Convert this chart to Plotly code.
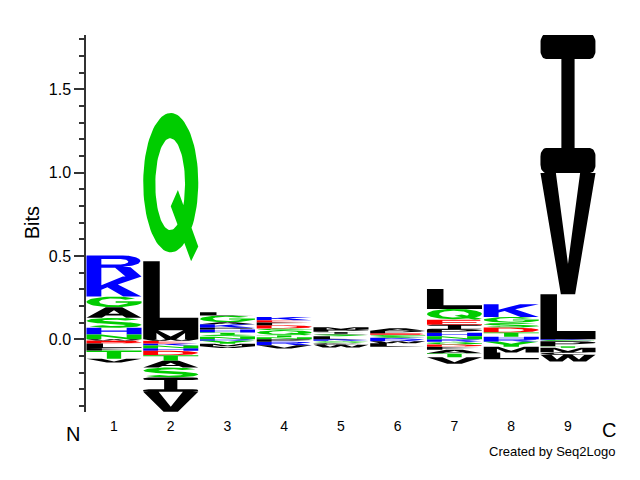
import numpy as np
import plotly.graph_objects as go

# ---------------- data (bits per residue, positive stacked up, negative stacked down) ----------------
positions = [1, 2, 3, 4, 5, 6, 7, 8, 9]
x_labels = ["1", "2", "3", "4", "5", "6", "7", "8", "9"]

p1_letters = ["N", "H", "S", "A", "G", "K", "R", "W", "E", "D", "L", "F", "T", "V"]
p1_bits = [0.028, 0.04, 0.06, 0.064, 0.064, 0.12, 0.126, -0.008, -0.01, -0.008, -0.027, -0.015, -0.05, -0.022]

p2_letters = ["M", "L", "Q", "W", "E", "K", "N", "H", "D", "T", "A", "S", "I", "V"]
p2_bits = [0.054, 0.414, 0.89, -0.01, -0.016, -0.012, -0.016, -0.016, -0.026, -0.034, -0.04, -0.06, -0.086, -0.12]

p3_letters = ["N", "S", "T", "H", "P", "K", "A", "G", "L", "R", "Y", "M", "V"]
p3_bits = [0.014, 0.014, 0.012, 0.018, 0.01, 0.022, 0.012, 0.04, 0.02, -0.01, -0.018, -0.015, -0.01]

p4_letters = ["N", "T", "Q", "G", "D", "F", "E", "K", "P", "R", "V"]
p4_bits = [0.012, 0.012, 0.03, 0.01, 0.02, 0.016, 0.014, 0.02, -0.016, -0.02, -0.02]

p5_letters = ["L", "S", "I", "P", "M", "K", "G", "C", "W"]
p5_bits = [0.018, 0.012, 0.014, 0.014, 0.014, -0.01, -0.012, -0.012, -0.016]

p6_letters = ["K", "S", "G", "E", "P", "A", "R", "W", "L"]
p6_bits = [0.008, 0.008, 0.01, 0.01, 0.014, 0.016, -0.012, -0.012, -0.021]

p7_letters = ["N", "H", "P", "I", "E", "Q", "L", "R", "G", "D", "F", "A", "T", "V"]
p7_bits = [0.018, 0.02, 0.02, 0.028, 0.03, 0.066, 0.12, -0.016, -0.016, -0.014, -0.018, -0.02, -0.024, -0.04]

p8_letters = ["H", "T", "D", "S", "G", "K", "R", "Y", "M", "L"]
p8_bits = [0.014, 0.026, 0.03, 0.028, 0.036, 0.076, -0.016, -0.03, -0.034, -0.04]

p9_letters = ["L", "V", "I", "K", "G", "P", "T", "M", "C", "W"]
p9_bits = [0.27, 0.727, 0.835, -0.006, -0.006, -0.03, -0.01, -0.026, -0.016, -0.04]

all_letters = [p1_letters, p2_letters, p3_letters, p4_letters, p5_letters,
               p6_letters, p7_letters, p8_letters, p9_letters]
all_bits = [p1_bits, p2_bits, p3_bits, p4_bits, p5_bits,
            p6_bits, p7_bits, p8_bits, p9_bits]

BLUE, RED, GREEN, BLACK = "#0000FF", "#FF0000", "#00CC00", "#000000"
color_of = {}
for a in "KRH":
    color_of[a] = BLUE
for a in "DE":
    color_of[a] = RED
for a in "GSTYNQ":
    color_of[a] = GREEN
for a in "ACFILMPVW":
    color_of[a] = BLACK

# ---------------- glyph outlines in a unit box ----------------
def arc(cx, cy, rx, ry, a0, a1, n=48):
    t = np.radians(np.linspace(a0, a1, n))
    return [(cx + rx * np.cos(v), cy + ry * np.sin(v)) for v in t]


def rrect(x0, y0, x1, y1, rx, ry):
    pts = []
    pts += arc(x1 - rx, y0 + ry, rx, ry, -90, 0, 10)
    pts += arc(x1 - rx, y1 - ry, rx, ry, 0, 90, 10)
    pts += arc(x0 + rx, y1 - ry, rx, ry, 90, 180, 10)
    pts += arc(x0 + rx, y0 + ry, rx, ry, 180, 270, 10)
    return pts


def s_shape(hx=0.14, hy=0.09):
    cy = (1.5 - hy) / 2.0
    ry = cy - 0.5
    rx = 0.5 - hx
    t1 = np.radians(np.linspace(25, 270, 60))
    t2 = np.radians(np.linspace(90, -155, 60))
    cx1 = 0.5 + rx * np.cos(t1)
    cy1 = cy + ry * np.sin(t1)
    cx2 = 0.5 + rx * np.cos(t2)
    cy2 = (1 - cy) + ry * np.sin(t2)
    xs = np.concatenate([cx1, cx2[1:]])
    ys = np.concatenate([cy1, cy2[1:]])
    u, v = xs / hx, ys / hy
    du, dv = np.gradient(u), np.gradient(v)
    nrm = np.hypot(du, dv)
    nu, nv = -dv / nrm, du / nrm
    left = list(zip((u + nu) * hx, (v + nv) * hy))
    right = list(zip((u - nu) * hx, (v - nv) * hy))
    return left + right[::-1]


GLYPHS = {
    "A": [([(0, 0), (0.35, 1), (0.65, 1), (1, 0), (0.72, 0), (0.65, 0.22), (0.35, 0.22), (0.28, 0)], True),
          ([(0.40, 0.38), (0.5, 0.72), (0.60, 0.38)], False)],
    "C": [(arc(0.5, 0.5, 0.5, 0.5, 40, 320) + arc(0.5, 0.5, 0.27, 0.32, 320, 40), True)],
    "D": [([(0, 0), (0, 1), (0.5, 1)] + arc(0.5, 0.5, 0.5, 0.5, 90, -90) + [(0.5, 0)], True),
          ([(0.27, 0.18), (0.27, 0.82), (0.48, 0.82)] + arc(0.48, 0.5, 0.25, 0.32, 90, -90) + [(0.48, 0.18)], False)],
    "E": [([(0, 0), (1, 0), (1, 0.18), (0.28, 0.18), (0.28, 0.42), (0.9, 0.42), (0.9, 0.58),
            (0.28, 0.58), (0.28, 0.82), (0.97, 0.82), (0.97, 1), (0, 1)], True)],
    "F": [([(0, 0), (0.28, 0), (0.28, 0.42), (0.88, 0.42), (0.88, 0.58),
            (0.28, 0.58), (0.28, 0.82), (0.97, 0.82), (0.97, 1), (0, 1)], True)],
    "G": [(arc(0.5, 0.5, 0.5, 0.5, 40, 345) + [(1.0, 0.37), (1.0, 0.56), (0.53, 0.56), (0.53, 0.41), (0.76, 0.41)]
           + arc(0.5, 0.5, 0.27, 0.32, 345, 40), True)],
    "H": [([(0, 0), (0, 1), (0.27, 1), (0.27, 0.6), (0.73, 0.6), (0.73, 1), (1, 1), (1, 0),
            (0.73, 0), (0.73, 0.42), (0.27, 0.42), (0.27, 0)], True)],
    "I": [(rrect(0, 0.82, 1, 1, 0.1, 0.06), True),
          ([(0.38, 0.15), (0.62, 0.15), (0.62, 0.85), (0.38, 0.85)], True),
          (rrect(0, 0, 1, 0.18, 0.1, 0.06), True)],
    "K": [([(0, 0), (0, 1), (0.27, 1), (0.27, 0.57), (0.66, 1), (1, 1), (0.57, 0.6), (1, 0),
            (0.67, 0), (0.38, 0.46), (0.27, 0.34), (0.27, 0)], True)],
    "L": [([(0, 0), (1, 0), (1, 0.18), (0.3, 0.18), (0.3, 1), (0, 1)], True)],
    "M": [([(0, 0), (0, 1), (0.27, 1), (0.5, 0.3), (0.73, 1), (1, 1), (1, 0), (0.76, 0),
            (0.76, 0.68), (0.6, 0), (0.4, 0), (0.24, 0.68), (0.24, 0)], True)],
    "N": [([(0, 0), (0, 1), (0.27, 1), (0.73, 0.35), (0.73, 1), (1, 1), (1, 0), (0.73, 0),
            (0.27, 0.65), (0.27, 0)], True)],
    "P": [([(0, 0), (0, 1), (0.62, 1)] + arc(0.62, 0.7, 0.38, 0.3, 90, -90) + [(0.62, 0.4), (0.27, 0.4), (0.27, 0)], True),
          ([(0.27, 0.56), (0.27, 0.84), (0.58, 0.84)] + arc(0.58, 0.7, 0.15, 0.14, 90, -90) + [(0.58, 0.56)], False)],
    "Q": [(arc(0.5, 0.53, 0.5, 0.47, 0, 360, 90), True),
          (arc(0.49, 0.52, 0.27, 0.31, 0, 360, 90), False),
          ([(0.5, 0.37), (0.63, 0.48), (1.0, 0.1), (0.87, 0.0)], True)],
    "R": [([(0, 0), (0, 1), (0.66, 1)] + arc(0.66, 0.74, 0.32, 0.26, 90, -90)
           + [(0.8, 0.44), (1.0, 0.0), (0.71, 0.0), (0.52, 0.42), (0.27, 0.42), (0.27, 0)], True),
          ([(0.27, 0.58), (0.27, 0.84), (0.62, 0.84)] + arc(0.62, 0.71, 0.14, 0.13, 90, -90) + [(0.62, 0.58)], False)],
    "S": [(s_shape(), True)],
    "T": [([(0, 1), (1, 1), (1, 0.82), (0.63, 0.82), (0.63, 0), (0.37, 0), (0.37, 0.82), (0, 0.82)], True)],
    "V": [([(0, 1), (0.28, 1), (0.5, 0.25), (0.72, 1), (1, 1), (0.63, 0), (0.37, 0)], True)],
    "W": [([(0, 1), (0.2, 1), (0.3, 0.3), (0.42, 1), (0.58, 1), (0.7, 0.3), (0.8, 1), (1, 1),
            (0.83, 0), (0.6, 0), (0.5, 0.62), (0.4, 0), (0.17, 0)], True)],
    "Y": [([(0, 1), (0.3, 1), (0.5, 0.62), (0.7, 1), (1, 1), (0.64, 0.4), (0.64, 0), (0.36, 0), (0.36, 0.4)], True)],
}


def oriented(pts, outer):
    p = np.asarray(pts, float)
    x, y = p[:, 0], p[:, 1]
    area = 0.5 * np.sum(x * np.roll(y, -1) - np.roll(x, -1) * y)
    if (area > 0) != outer:
        p = p[::-1]
    return p


GL = {k: [oriented(p, o) for p, o in v] for k, v in GLYPHS.items()}

# ---------------- build filled traces per colour ----------------
W = 0.97
paths = {c: ([], []) for c in (BLUE, RED, GREEN, BLACK)}
for pos, letters, bits in zip(positions, all_letters, all_bits):
    up, down = 0.0, 0.0
    for aa, b in zip(letters, bits):
        h = abs(b)
        if b >= 0:
            y0 = up
            up += h
        else:
            down -= h
            y0 = down
        xs, ys = paths[color_of[aa]]
        for p in GL[aa]:
            xs.extend(list(pos - W / 2 + p[:, 0] * W) + [None])
            ys.extend(list(y0 + p[:, 1] * h) + [None])

fig = go.Figure()
for c, (xs, ys) in paths.items():
    fig.add_trace(go.Scatter(x=xs, y=ys, mode="lines", fill="toself", fillcolor=c,
                             line=dict(width=0, color=c), hoverinfo="skip", showlegend=False))

FONT = "Liberation Sans, Arial, Helvetica, sans-serif"
fig.update_layout(
    width=640, height=480,
    margin=dict(l=86, r=0, t=35, b=68),
    plot_bgcolor="white", paper_bgcolor="white",
    showlegend=False,
    font=dict(family=FONT, color="black"),
)
fig.update_xaxes(range=[0.5066, 10.269], tickvals=positions, ticktext=x_labels,
                 showgrid=False, zeroline=False, showline=False, ticks="",
                 ticklabelstandoff=4,
                 tickfont=dict(size=14, color="black"))
fig.update_yaxes(range=[-0.437, 1.826], tick0=0, dtick=0.5, tickformat=".1f",
                 ticks="outside", ticklen=10, tickwidth=1.5, tickcolor="#333",
                 showline=True, linecolor="#333", linewidth=1.5,
                 showgrid=False, zeroline=False,
                 minor=dict(tick0=0, dtick=0.1, ticks="outside", ticklen=5, tickwidth=1.5, tickcolor="#333"),
                 tickfont=dict(size=16, color="black"))

ann = dict(xref="paper", yref="paper", showarrow=False, xanchor="center", yanchor="middle")
fig.add_annotation(text="Bits", x=-0.0975, y=0.503, textangle=-90, font=dict(size=20, family=FONT), **ann)
fig.add_annotation(text="N", x=-0.0235, y=-0.058, font=dict(size=20, family=FONT), **ann)
fig.add_annotation(text="C", x=0.944, y=-0.048, font=dict(size=20, family=FONT), **ann)
fig.add_annotation(text="Created by Seq2Logo", x=0.841, y=-0.106, font=dict(size=13, family=FONT), **ann)

fig.write_html("out.html")
